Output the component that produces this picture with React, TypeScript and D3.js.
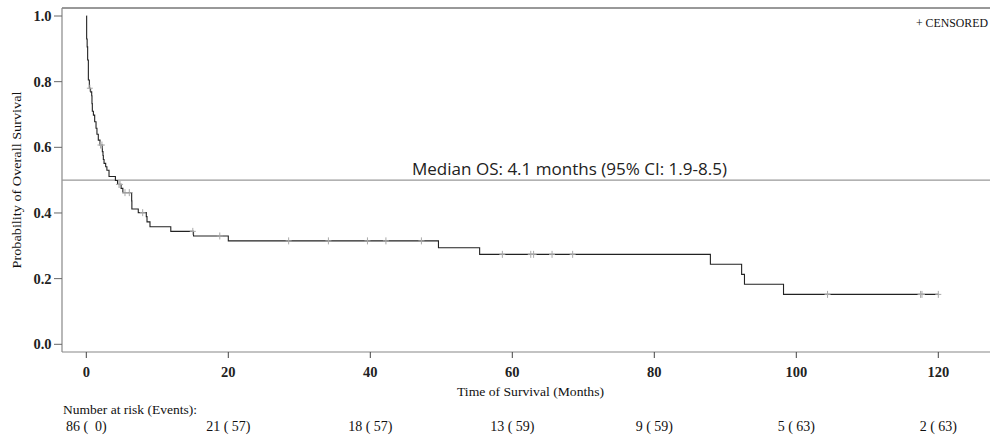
import React from "react";
import * as d3 from "d3";

// Kaplan-Meier step points: [time (months), survival after the step]
const stepTimes = [0, 0.05, 0.12, 0.19, 0.29, 0.43, 0.6, 0.76, 0.8, 0.85, 1.0, 1.18, 1.37, 1.5, 1.69, 1.93, 2.26, 2.35, 2.4, 2.5, 2.73, 2.9, 3.2, 4.1, 4.4, 4.9, 5.15, 6.39, 6.42, 7.32, 8.45, 8.55, 8.97, 11.9, 15.1, 20.0, 49.6, 55.4, 87.9, 92.3, 92.7, 98.2, 120];
const stepSurv = [1.0, 0.93, 0.906, 0.866, 0.805, 0.78, 0.769, 0.757, 0.733, 0.71, 0.698, 0.678, 0.658, 0.64, 0.622, 0.607, 0.587, 0.575, 0.563, 0.551, 0.541, 0.53, 0.511, 0.499, 0.487, 0.475, 0.462, 0.437, 0.412, 0.401, 0.389, 0.373, 0.358, 0.344, 0.33, 0.315, 0.294, 0.274, 0.244, 0.213, 0.183, 0.152, 0.152];

// censored observation times
const censorTimes = [0.5, 2.0, 2.2, 4.6, 4.75, 5.45, 6.06, 7.94, 15.0, 18.8, 28.5, 34.1, 39.6, 42.2, 47.2, 58.6, 62.6, 63.0, 65.6, 68.5, 104.4, 117.5, 117.7, 120];

// axes
const xTicks = [0, 20, 40, 60, 80, 100, 120];
const yTicks = [0, 0.2, 0.4, 0.6, 0.8, 1.0];

// number at risk table
const riskTimes = [0, 20, 40, 60, 80, 100, 120];
const atRisk = [86, 21, 18, 13, 9, 5, 2];
const riskEvents = [0, 57, 57, 59, 59, 63, 63];

const medianLabel = "Median OS: 4.1 months (95% CI: 1.9-8.5)";

const W = 990;
const H = 435;
const serif = "'Liberation Serif', 'Times New Roman', serif";

export default function App() {
  const x = d3.scaleLinear().domain([0, 120]).range([86.3, 938.3]);
  const y = d3.scaleLinear().domain([0, 1]).range([344.3, 16]);

  const pts: [number, number][] = stepTimes.map((t, i) => [t, stepSurv[i]]);
  const line = d3
    .line<[number, number]>()
    .x((d) => x(d[0]))
    .y((d) => y(d[1]))
    .curve(d3.curveStepAfter);

  const survAt = (t: number) => {
    let s = 1;
    for (let i = 0; i < stepTimes.length; i++) {
      if (stepTimes[i] <= t) s = stepSurv[i];
    }
    return s;
  };

  const left = 62;
  const top = 8;
  const bottom = 352;

  return (
    <svg
      width={W}
      height={H}
      style={{ position: "absolute", left: 0, top: 0, background: "#fff" }}
    >
      <rect x={0} y={0} width={W} height={H} fill="#fff" />
      {/* frame */}
      <line x1={left} x2={W} y1={top} y2={top} stroke="#333" strokeWidth={1} />
      <line x1={left} x2={left} y1={top} y2={bottom} stroke="#888" strokeWidth={1.2} />
      <line x1={left} x2={W} y1={bottom} y2={bottom} stroke="#888" strokeWidth={1.2} />

      {/* y ticks */}
      {yTicks.map((v) => (
        <g key={"y" + v}>
          <line x1={54} x2={left} y1={y(v)} y2={y(v)} stroke="#666" />
          <text
            x={51.5}
            y={y(v) + 5}
            textAnchor="end"
            fontFamily={serif}
            fontSize={14.5}
            fontWeight="bold"
            fill="#222"
          >
            {v.toFixed(1)}
          </text>
        </g>
      ))}
      {/* x ticks */}
      {xTicks.map((v) => (
        <g key={"x" + v}>
          <line x1={x(v)} x2={x(v)} y1={bottom} y2={358} stroke="#444" />
          <text
            x={x(v)}
            y={377}
            textAnchor="middle"
            fontFamily={serif}
            fontSize={14.5}
            fontWeight="bold"
            fill="#222"
          >
            {v}
          </text>
        </g>
      ))}

      {/* axis titles */}
      <text
        transform={`translate(21,180) rotate(-90)`}
        textAnchor="middle"
        fontFamily={serif}
        fontSize={13.5}
        fill="#111"
        textLength={177}
        lengthAdjust="spacingAndGlyphs"
      >
        Probability of Overall Survival
      </text>
      <text
        x={530.5}
        y={396}
        textAnchor="middle"
        fontFamily={serif}
        fontSize={13.5}
        fill="#111"
        textLength={147}
        lengthAdjust="spacingAndGlyphs"
      >
        Time of Survival (Months)
      </text>

      {/* median line and label */}
      <line x1={left} x2={W} y1={y(0.5)} y2={y(0.5)} stroke="#999" strokeWidth={1.2} />
      <text
        x={412}
        y={175}
        fontFamily="'Open Sans', 'Noto Sans', sans-serif"
        fontSize={16.5}
        fill="#222"
        textLength={315}
        lengthAdjust="spacingAndGlyphs"
      >
        {medianLabel}
      </text>

      {/* legend */}
      <text
        x={916}
        y={27}
        fontFamily={serif}
        fontSize={12}
        fill="#111"
        textLength={72}
        lengthAdjust="spacingAndGlyphs"
      >
        + CENSORED
      </text>

      {/* KM curve */}
      <path d={line(pts) || ""} fill="none" stroke="#222" strokeWidth={1.1} />

      {/* censor marks */}
      {censorTimes.map((t, i) => {
        const cx = x(t);
        const cy = y(survAt(t));
        return (
          <g key={"c" + i} stroke="#aaa" strokeWidth={1}>
            <line x1={cx} x2={cx} y1={cy - 3.5} y2={cy + 3.5} />
            <line x1={cx - 3} x2={cx + 3} y1={cy} y2={cy} />
          </g>
        );
      })}

      {/* number at risk */}
      <text
        x={63}
        y={414}
        fontFamily={serif}
        fontSize={13.5}
        fill="#111"
        textLength={134}
        lengthAdjust="spacingAndGlyphs"
      >
        Number at risk (Events):
      </text>
      {riskTimes.map((t, i) => (
        <text
          key={"r" + t}
          x={x(t)}
          y={431}
          textAnchor="middle"
          fontFamily={serif}
          fontSize={14}
          fill="#111"
          style={{ whiteSpace: "pre" }}
        >
          {`${atRisk[i]} (${String(riskEvents[i]).padStart(3, " ")})`}
        </text>
      ))}
    </svg>
  );
}
